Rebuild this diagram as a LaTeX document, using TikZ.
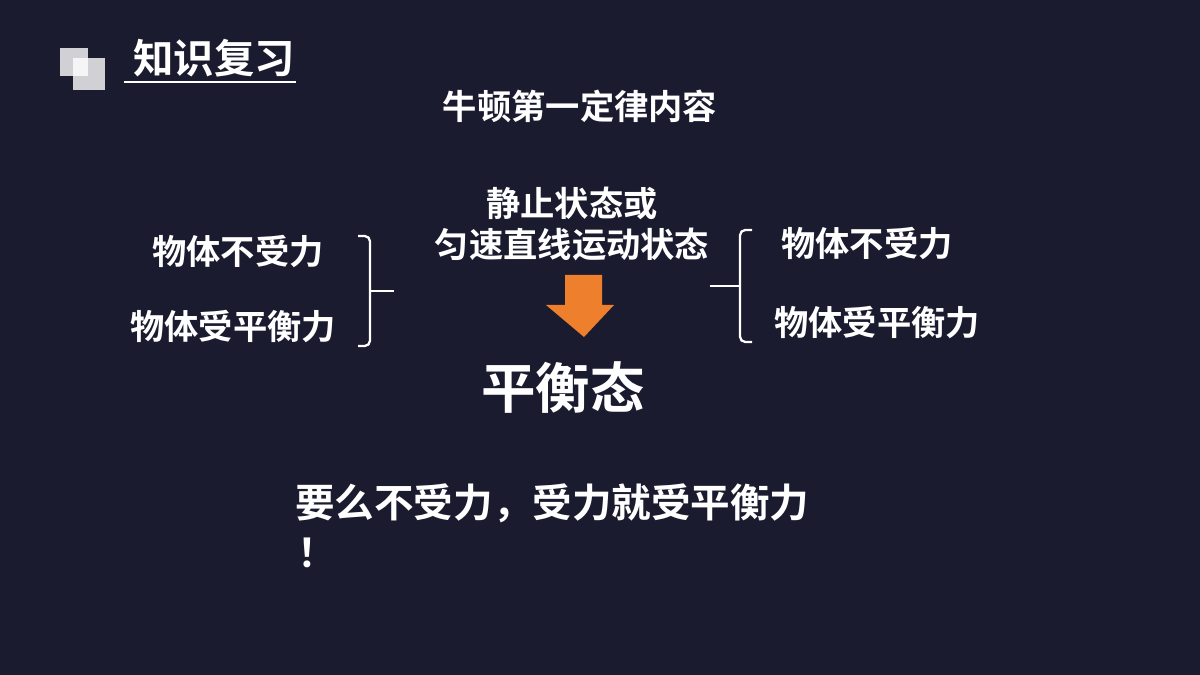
\documentclass[tikz,border=0pt]{standalone}
\usepackage{fontspec}
\newfontfamily\cjk{Noto Sans CJK SC Bold}
\definecolor{bg}{HTML}{1A1B2E}
\definecolor{org}{HTML}{EE7F2D}
\begin{document}
\begin{tikzpicture}[x=0.02cm,y=-0.02cm,
  txt/.style={text=white,font=\cjk\fontsize{19.5}{22}\selectfont,inner sep=0},
  brk/.style={draw=white,line width=1.3pt,rounded corners=3pt}]
\fill[bg] (0,0) rectangle (1200,675);
\useasboundingbox (0,0) rectangle (1200,675);
\fill[white,opacity=0.8] (60,48) rectangle (88,76);
\fill[white,opacity=0.8] (73,58) rectangle (105,90);
\node[txt,font=\cjk\fontsize{23}{26}\selectfont] (title) at (214,58) {知识复习};
\draw[white,line width=1pt] (124,82) -- (296,82);
\node[txt] (head) at (580,106) {牛顿第一定律内容};
\node[txt] (s1) at (572,203) {静止状态或};
\node[txt] (s2) at (572,244) {匀速直线运动状态};
\node[txt] (l1) at (238,251) {物体不受力};
\node[txt] (l2) at (233,326) {物体受平衡力};
\node[txt] (r1) at (867,243) {物体不受力};
\node[txt] (r2) at (877,322) {物体受平衡力};
\draw[brk] (358,236) -- (370,236) -- (370,291) -- (370,346) -- (358,346);
\draw[white,line width=1.3pt] (370,291) -- (394,291);
\draw[brk] (752,230) -- (740,230) -- (740,286) -- (740,342) -- (752,342);
\draw[white,line width=1.3pt] (740,286) -- (710,286);
\fill[org] (565,275) -- (602,275) -- (602,305) -- (614,305) -- (584,337) -- (546,305) -- (565,305) -- cycle;
\node[txt,font=\cjk\fontsize{31}{34}\selectfont] (eq) at (563,388) {平衡态};
\node[txt,anchor=west,font=\cjk\fontsize{22.5}{25}\selectfont] (c1) at (295,503) {要么不受力，受力就受平衡力};
\node[txt,anchor=west,font=\cjk\fontsize{22.5}{25}\selectfont] (c2) at (297,553) {！};
\end{tikzpicture}
\end{document}
